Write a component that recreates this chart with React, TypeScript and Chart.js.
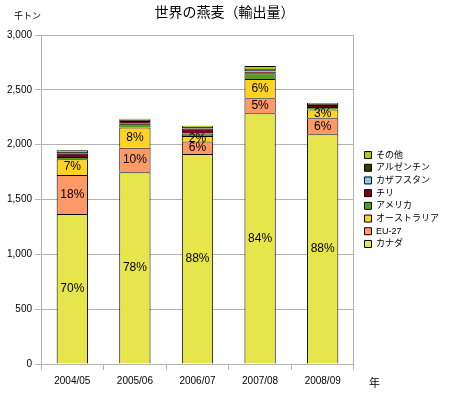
import React, { useEffect, useRef } from 'react';
import { Chart, registerables } from 'chart.js';

Chart.register(...registerables);

const years = ['2004/05', '2005/06', '2006/07', '2007/08', '2008/09'];
const canada = [1368, 1748, 1915, 2286, 2095];
const eu27 = [355, 224, 115, 137, 145];
const australia = [145, 185, 50, 176, 80];
const usa = [20, 34, 22, 52, 24];
const chile = [30, 24, 45, 16, 18];
const kazakhstan = [0, 0, 0, 14, 0];
const argentina = [15, 12, 15, 8, 9];
const others = [17, 10, 10, 28, 8];

const canadaPct = ['70%', '78%', '88%', '84%', '88%'];
const euPct = ['18%', '10%', '6%', '5%', '6%'];
const ausPct = ['7%', '8%', '2%', '6%', '3%'];

const yTickValues = [0, 500, 1000, 1500, 2000, 2500, 3000];

const FONT = '"Liberation Sans", "Noto Sans CJK JP", sans-serif';
const GRID = '#b3b3b3';

const pctLabels: Record<number, string[]> = { 0: canadaPct, 1: euPct, 2: ausPct };

const pctPlugin = {
  id: 'pctLabels',
  afterDatasetsDraw(chart: any) {
    const ctx = chart.ctx;
    ctx.save();
    ctx.font = `12px ${FONT}`;
    ctx.fillStyle = '#000';
    ctx.textAlign = 'center';
    ctx.textBaseline = 'middle';
    Object.keys(pctLabels).forEach((k) => {
      const di = Number(k);
      const meta = chart.getDatasetMeta(di);
      meta.data.forEach((el: any, i: number) => {
        const p = el.getProps(['x', 'y', 'base'], true);
        ctx.fillText(pctLabels[di][i], p.x, (p.y + p.base) / 2);
      });
    });
    ctx.restore();
  },
};

const axisTextPlugin = {
  id: 'axisText',
  afterDraw(chart: any) {
    const ctx = chart.ctx;
    ctx.save();
    ctx.fillStyle = '#000';
    ctx.textBaseline = 'middle';
    ctx.textAlign = 'left';
    ctx.font = `9px ${FONT}`;
    ctx.fillText('千トン', 14, 16.5);
    ctx.font = `11px ${FONT}`;
    ctx.fillText('年', 369, 384);
    ctx.restore();
  },
};

export default function App() {
  const ref = useRef<HTMLCanvasElement>(null);
  useEffect(() => {
    if (!ref.current) return;
    const mk = (label: string, data: number[], color: string) => ({
      label,
      data,
      backgroundColor: color,
      borderColor: '#000',
      borderWidth: 1,
      stack: 's',
    });
    const chart = new Chart(ref.current, {
      type: 'bar',
      data: {
        labels: years,
        datasets: [
          mk('カナダ', canada, '#e6e64c'),
          mk('EU-27', eu27, '#ff9966'),
          mk('オーストラリア', australia, '#ffd320'),
          mk('アメリカ', usa, '#579d1c'),
          mk('チリ', chile, '#7e0021'),
          mk('カザフスタン', kazakhstan, '#83caff'),
          mk('アルゼンチン', argentina, '#314004'),
          mk('その他', others, '#aecf00'),
        ],
      },
      options: {
        responsive: false,
        animation: false,
        layout: { padding: 0 },
        datasets: { bar: { barPercentage: 0.5, categoryPercentage: 1 } },
        scales: {
          x: {
            stacked: true,
            offset: true,
            grid: { offset: true, drawOnChartArea: false, drawTicks: true, tickLength: 6, color: GRID },
            border: { color: GRID },
            ticks: { color: '#000', font: { size: 10, family: FONT }, padding: 5, maxRotation: 0 },
            afterFit(scale: any) { scale.height = 35; },
          },
          y: {
            stacked: true,
            min: 0,
            max: 3000,
            afterBuildTicks(scale: any) { scale.ticks = yTickValues.map((v) => ({ value: v })); },
            grid: { color: GRID, tickLength: 6 },
            border: { color: GRID },
            ticks: {
              color: '#000',
              font: { size: 10, family: FONT },
              padding: 3,
              callback: (v: any) => Number(v).toLocaleString('en-US'),
            },
            afterFit(scale: any) { scale.width = 41; },
          },
          y2: {
            type: 'linear',
            position: 'right',
            display: true,
            grid: { display: false, drawTicks: false },
            ticks: { display: false },
            border: { color: GRID },
            afterFit(scale: any) { scale.width = 6.8; },
          },
        },
        plugins: {
          tooltip: { enabled: false },
          title: {
            display: true,
            text: '世界の燕麦（輸出量）',
            color: '#000',
            font: { size: 14, family: FONT, weight: 'normal' },
            padding: { top: 4.3, bottom: 13.9 },
          },
          legend: {
            display: true,
            position: 'right',
            align: 'center',
            reverse: true,
            maxWidth: 120,
            labels: {
              color: '#000',
              boxWidth: 7,
              boxHeight: 7,
              padding: 3.7,
              font: { size: 9, family: FONT },
            },
          },
        },
      } as any,
      plugins: [pctPlugin, axisTextPlugin],
    });
    return () => chart.destroy();
  }, []);
  return (
    <div style={{ position: 'fixed', left: 0, top: 0, width: 449, height: 399, background: '#fff' }}>
      <canvas ref={ref} width={449} height={399} />
    </div>
  );
}
